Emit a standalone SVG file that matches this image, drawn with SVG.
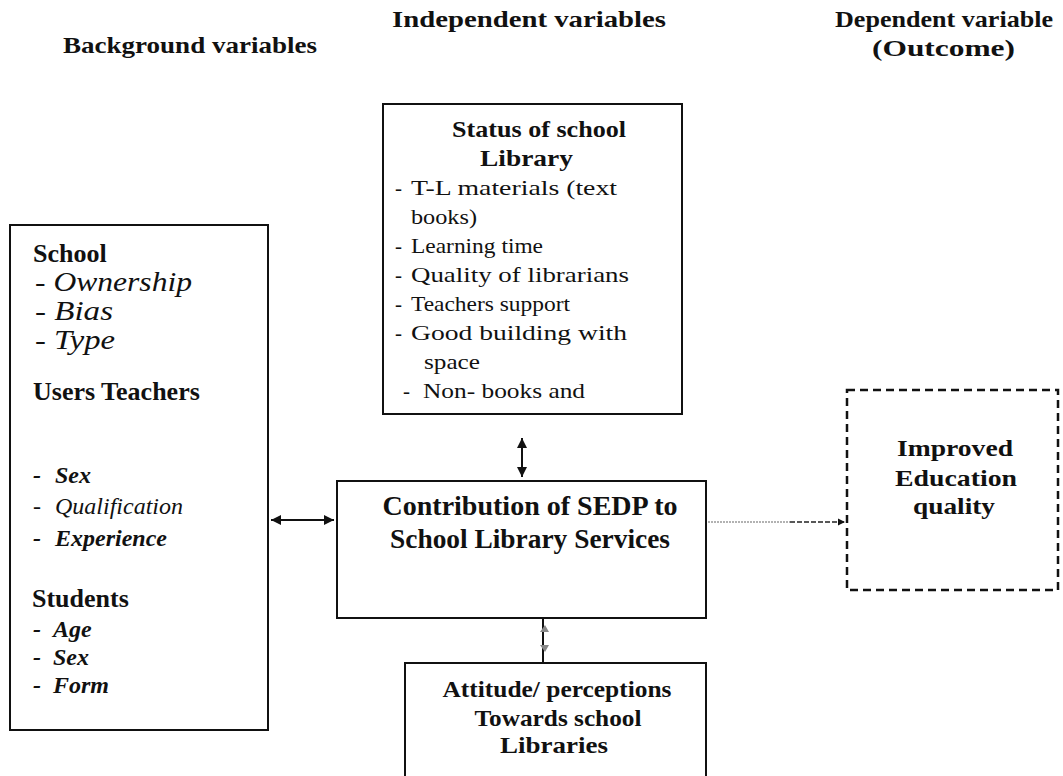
<svg xmlns="http://www.w3.org/2000/svg" width="1063" height="776" viewBox="0 0 1063 776">
<defs>
<style>
.hdr{font-family:"Liberation Serif",serif;font-weight:bold;font-size:24px;fill:#111}
.bh{font-family:"Liberation Serif",serif;font-weight:bold;font-size:26px;fill:#111}
.it{font-family:"Liberation Serif",serif;font-style:italic;font-size:28px;fill:#111}
.it2{font-family:"Liberation Serif",serif;font-style:italic;font-size:24px;fill:#111}
.bi{font-family:"Liberation Serif",serif;font-style:italic;font-weight:bold;font-size:24px;fill:#111}
.tx{font-family:"Liberation Serif",serif;font-size:21px;fill:#111}
.ctr{font-family:"Liberation Serif",serif;font-weight:bold;font-size:27px;fill:#111;text-anchor:middle}
.box{fill:#fff;stroke:#111;stroke-width:2}
.conn{stroke:#111;stroke-width:2;fill:none}
</style>
<marker id="ah" viewBox="0 0 10 10" refX="10" refY="5" markerWidth="5" markerHeight="5" orient="auto-start-reverse" markerUnits="strokeWidth">
<path d="M0,0 L10,5 L0,10 z" fill="#111"/>
</marker>
</defs>
<rect width="1063" height="776" fill="#fff"/>

<g id="headers">
<text class="hdr" x="63" y="53" textLength="254" lengthAdjust="spacingAndGlyphs">Background variables</text>
<text class="hdr" x="392" y="27" textLength="274" lengthAdjust="spacingAndGlyphs">Independent variables</text>
<text class="hdr" x="835" y="27" textLength="218" lengthAdjust="spacingAndGlyphs">Dependent variable</text>
<text class="hdr" x="872" y="56" textLength="143" lengthAdjust="spacingAndGlyphs">(Outcome)</text>
</g>

<g id="background">
<rect class="box" x="10" y="225" width="258" height="505"/>
<text class="bh" x="33" y="262">School</text>
<text class="it" x="35" y="291" textLength="157" lengthAdjust="spacingAndGlyphs">- Ownership</text>
<text class="it" x="35" y="320" textLength="78" lengthAdjust="spacingAndGlyphs">- Bias</text>
<text class="it" x="35" y="349" textLength="80" lengthAdjust="spacingAndGlyphs">- Type</text>
<text class="bh" x="33" y="400">Users Teachers</text>
<text class="bi" x="33" y="483">-</text><text class="bi" x="55" y="483">Sex</text>
<text class="it2" x="33" y="514">-</text><text class="it2" x="55" y="514">Qualification</text>
<text class="bi" x="33" y="546">-</text><text class="bi" x="55" y="546">Experience</text>
<text class="bh" x="32" y="607">Students</text>
<text class="bi" x="33" y="637">-</text><text class="bi" x="53" y="637">Age</text>
<text class="bi" x="33" y="665">-</text><text class="bi" x="53" y="665">Sex</text>
<text class="bi" x="33" y="693">-</text><text class="bi" x="53" y="693">Form</text>
</g>

<g id="status">
<rect class="box" x="383" y="104" width="299" height="310"/>
<text class="tx" x="452" y="137" style="font-weight:bold;font-size:24px" textLength="174" lengthAdjust="spacingAndGlyphs">Status of school</text>
<text class="tx" x="480" y="166" style="font-weight:bold;font-size:24px" textLength="93" lengthAdjust="spacingAndGlyphs">Library</text>
<text class="tx" x="395" y="195">-</text><text class="tx" x="411" y="195" textLength="206" lengthAdjust="spacingAndGlyphs">T-L materials (text</text>
<text class="tx" x="411" y="224" textLength="66" lengthAdjust="spacingAndGlyphs">books)</text>
<text class="tx" x="395" y="253">-</text><text class="tx" x="411" y="253" textLength="132" lengthAdjust="spacingAndGlyphs">Learning time</text>
<text class="tx" x="395" y="282">-</text><text class="tx" x="411" y="282" textLength="218" lengthAdjust="spacingAndGlyphs">Quality of librarians</text>
<text class="tx" x="395" y="311">-</text><text class="tx" x="411" y="311" textLength="159" lengthAdjust="spacingAndGlyphs">Teachers support</text>
<text class="tx" x="395" y="340">-</text><text class="tx" x="411" y="340" textLength="216" lengthAdjust="spacingAndGlyphs">Good building with</text>
<text class="tx" x="424" y="369" textLength="56" lengthAdjust="spacingAndGlyphs">space</text>
<text class="tx" x="403" y="398">-</text><text class="tx" x="423" y="398" textLength="162" lengthAdjust="spacingAndGlyphs">Non- books and</text>
</g>

<g id="contribution">
<rect class="box" x="337" y="481" width="369" height="137"/>
<text class="ctr" x="530" y="515" textLength="295" lengthAdjust="spacingAndGlyphs">Contribution of SEDP to</text>
<text class="ctr" x="530" y="548" textLength="280" lengthAdjust="spacingAndGlyphs">School Library Services</text>
</g>

<g id="outcome">
<rect x="847" y="390" width="211" height="200" fill="#fff" stroke="#111" stroke-width="2.5" stroke-dasharray="8,5"/>
<text class="ctr" x="955" y="456" style="font-size:24px" textLength="116" lengthAdjust="spacingAndGlyphs">Improved</text>
<text class="ctr" x="956" y="486" style="font-size:24px" textLength="122" lengthAdjust="spacingAndGlyphs">Education</text>
<text class="ctr" x="954" y="514" style="font-size:24px" textLength="82" lengthAdjust="spacingAndGlyphs">quality</text>
</g>

<g id="attitude">
<path d="M405,780 V663 H706 V780" fill="#fff" stroke="#111" stroke-width="2"/>
<text class="ctr" x="557" y="697" style="font-size:23px" textLength="229" lengthAdjust="spacingAndGlyphs">Attitude/ perceptions</text>
<text class="ctr" x="558" y="726" style="font-size:23px" textLength="167" lengthAdjust="spacingAndGlyphs">Towards school</text>
<text class="ctr" x="554" y="753" style="font-size:23px" textLength="108" lengthAdjust="spacingAndGlyphs">Libraries</text>
</g>

<g id="connectors">
<line class="conn" x1="271" y1="520" x2="334" y2="520" marker-start="url(#ah)" marker-end="url(#ah)"/>
<line class="conn" x1="522" y1="438" x2="522" y2="477" marker-start="url(#ah)" marker-end="url(#ah)"/>
<line class="conn" x1="543" y1="619" x2="543" y2="662"/>
<path d="M540,632 L545,625 L549,632 Z M540,645 L545,652 L549,645 Z" fill="#888"/>
<line x1="708" y1="522" x2="790" y2="522" stroke="#999" stroke-width="1.5" stroke-dasharray="2,1"/>
<line x1="790" y1="522" x2="845" y2="522" stroke="#222" stroke-width="1.5" stroke-dasharray="5,2" marker-end="url(#ah)"/>
</g>
</svg>
